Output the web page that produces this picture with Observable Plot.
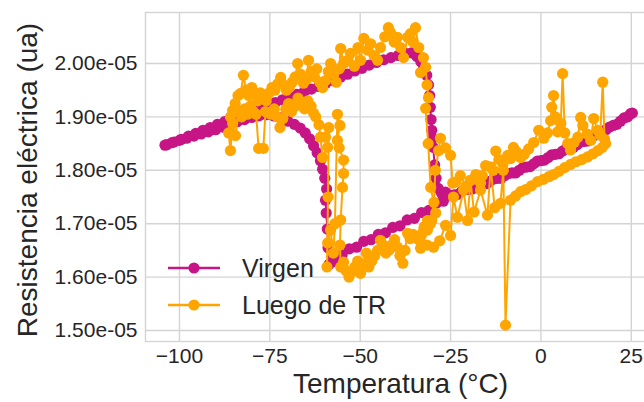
<!DOCTYPE html>
<html><head><meta charset="utf-8">
<script src="https://cdn.jsdelivr.net/npm/d3@7"></script>
<script src="https://cdn.jsdelivr.net/npm/@observablehq/plot@0.6"></script>
<style>
html,body{margin:0;padding:0;background:#fff;overflow:hidden;}
#wrap{position:relative;width:644px;height:402px;overflow:hidden;font-family:"Liberation Sans",Arial,sans-serif;}
#wrap svg{max-width:none !important;}
#legend{position:absolute;left:0;top:0;pointer-events:none;}
</style></head><body>
<div id="wrap"><svg id="legend" width="644" height="402"></svg></div>
<script>
// ---- data (temperature in °C, resistance in units of 1e-5) ----
const seriesNames = ["Virgen", "Luego de TR"];
const seriesColors = ["#c71585", "#ffa500"];
const xTicks = [-100, -75, -50, -25, 0, 25];
const yTicksE5 = [1.5, 1.6, 1.7, 1.8, 1.9, 2.0];

const virgenT = [
 24.8,23,21,19,17,15,13,11,9,7,5,3,1,-1,-3,-5,-7,-9,-11,-13,-15,-17,-19,-21,-23,-25,-27,-29,-31,-33,-35,-37,-39,-41,-43,-45,-47,-49,-51,-53,-55,-56.5,-57.8,-58.6,
 -58.9,-59.1,-59.4,-59.6,-59.3,-59.8,-60.4,-61,-61.9,-62.9,-64,-65.2,-66.6,-68.2,-70,-72,-74,-76,
 -78,-80,-82,-84,-86,-88,-90,-92,-94,-96,-98,-100,-102,-104,
 -103.5,-101.5,-99.5,-97.5,-95.5,-93.5,-91.5,-89.5,-87.5,-85.5,-83.5,-81.5,-79.5,-77.5,-75.5,-73.5,-71.5,-69.5,-67.5,-65.5,-63.5,-61.5,-59.5,-57.5,-55.5,-53.5,-51.5,-49.5,-47.5,-45.5,-43.5,-41.5,-39.5,-37.5,-35.8,-34.3,-33.2,-32.4,-31.6,-31.1,-30.8,-30.6,-30.4,-30.2,-30,-29.8,-29.4,-29,-28.4,-27.5,-26.4,
 -24,-22,-20,-18,-16,-14,-12,-10,-8,-6,-4,-2,0,2,4,6,8,10,12,14,16,18,20,22,24,25.3
];
const virgenR = [
 1.906,1.898,1.886,1.881,1.870,1.866,1.855,1.853,1.843,1.841,1.831,1.829,1.819,1.817,1.807,1.805,1.795,1.794,1.785,1.784,1.775,1.774,1.765,1.764,1.755,1.753,1.742,1.738,1.725,1.721,1.710,1.707,1.696,1.693,1.683,1.680,1.670,1.667,1.656,1.653,1.642,1.637,1.628,1.624,
 1.655,1.690,1.720,1.744,1.765,1.785,1.802,1.818,1.833,1.846,1.859,1.870,1.879,1.886,1.892,1.898,1.902,1.904,
 1.902,1.899,1.895,1.891,1.886,1.881,1.876,1.872,1.868,1.864,1.860,1.856,1.852,1.847,
 1.848,1.853,1.858,1.864,1.869,1.875,1.880,1.886,1.891,1.896,1.901,1.906,1.911,1.917,1.922,1.927,1.932,1.937,1.942,1.947,1.952,1.957,1.963,1.968,1.974,1.980,1.986,1.991,1.997,2.002,2.007,2.011,2.015,2.019,2.020,2.013,2.003,1.992,1.978,1.960,1.940,1.918,1.895,1.875,1.860,1.843,1.810,1.785,1.766,1.757,1.759,
 1.754,1.760,1.764,1.770,1.774,1.780,1.785,1.790,1.795,1.800,1.806,1.812,1.818,1.824,1.830,1.836,1.842,1.848,1.854,1.861,1.868,1.876,1.884,1.892,1.900,1.907
];

const luegoT = [
 17.6,17.1,16.4,15.7,14.6,13.8,12.8,11.6,11,10.2,9.2,8.2,7.4,6.6,6,5.5,4.6,4,3.5,3,2.7,1.8,0.8,-0.6,-2,-3.4,-4.6,-5.6,-6.8,-7.6,-8.4,-9.2,-10.5,-11.6,-12.5,-13.2,-13.9,-15.3,-16.2,-16.7,-18,-19.5,-20.8,-22.3,-23.6,-24.4,-25,-26.4,-27.8,-28.3,-29.2,-29.6,
 -30.6,-31.4,-32.2,-33,-33.8,-34.6,-35.4,-36.2,-36.9,-37.6,-38.2,-39,-39.7,-40.5,-41.3,-42.1,-42.9,-43.7,-44.4,-45.2,-46,-46.8,-47.6,-48.3,-49.1,-49.9,-50.7,-51.5,-52.3,-53.1,-53.9,-54.6,-55.4,-55.6,-55.4,-54.9,-54.6,-54.6,-55.8,-56.3,-55.6,-56.3,-57,-57.4,-58.2,-59,-59.2,-58.9,-58.7,
 -59.6,-59,-60.4,-61,-61.4,-62.3,-62.9,-63.6,-64.5,-65.4,-66.3,-67.2,-68.1,-69,-69.8,-70.6,-71.4,-72.2,-73,-73.8,-74.6,-75.4,-76.2,-76.8,-78.1,-78.8,-79.6,-80.4,-81.2,-82,-82.8,-83.6,-84.5,-85.3,-85.9,-86.4,-85.9,-85.3,
 -84.6,-83.8,-83.1,-82.3,-81.6,-80.8,-80,-79.2,-78.4,-77.6,-76.8,-76,-75.2,-74.4,-73.6,-72.8,-72,-71.2,-70.4,-69.6,-68.8,-68,-67.3,-66.5,-65.7,-64.9,-64.3,-63.5,-62.7,-62,-61.2,-60.4,-59.6,-58.8,-58.2,-57.4,-56.6,-55.8,-55.4,-54.6,-53.8,-52.7,-51.6,-50.6,-49.9,-49,-48,-47.1,-46.2,-45.2,-44.4,-43.2,-42.2,-41.6,-40.6,-39.7,-38.8,-38,-36.9,-36.1,-35.4,-34.7,-33.8,-32.5,-33.3,-31.9,-31.5,-31.1,-31.9,-31.2,-30.5,
 -29.1,-30.2,-31.4,-32.4,-33.3,-33.3,-31.5,-29.7,-28,-26.4,-25,-24.2,-23.1,-21.4,-20.3,-19.5,-18.5,-16.7,-14.8,-13.9,-12.8,-11.2,-10.4,-9.8,-8.4,
 -7,-5.6,-4.2,-2.6,-0.9,0.7,2.2,3.5,5,6.6,8.2,9.7,11.3,12.9,14.4,15.8,17,17.9
];
const luegoR = [
 1.858,1.965,1.866,1.875,1.897,1.856,1.868,1.884,1.899,1.862,1.852,1.838,1.850,1.870,1.981,1.888,1.872,1.900,1.940,1.918,1.893,1.870,1.860,1.875,1.852,1.840,1.830,1.824,1.835,1.843,1.822,1.828,1.812,1.820,1.836,1.800,1.806,1.809,1.790,1.776,1.792,1.781,1.770,1.790,1.778,1.776,1.828,1.842,1.860,1.837,1.800,1.740,
 1.700,1.688,1.695,1.680,1.670,1.675,1.680,1.672,1.682,1.650,1.626,1.640,1.656,1.670,1.660,1.650,1.645,1.660,1.669,1.650,1.640,1.630,1.619,1.645,1.625,1.607,1.630,1.619,1.610,1.600,1.612,1.628,1.619,1.660,1.707,1.768,1.794,1.819,1.842,1.856,1.884,1.905,1.700,1.645,1.688,1.664,1.619,1.750,1.880,
 1.862,1.843,1.824,1.862,1.885,1.900,1.907,1.920,1.930,1.915,1.925,1.935,1.920,1.910,1.925,1.915,1.897,1.880,1.900,1.915,1.905,1.907,1.910,1.841,1.841,1.905,1.910,1.920,1.905,1.915,1.900,1.910,1.865,1.888,1.837,1.870,1.900,1.912,
 1.925,1.940,1.944,1.978,1.950,1.940,1.955,1.945,1.930,1.945,1.940,1.930,1.945,1.955,1.950,1.962,1.974,1.960,1.950,1.955,1.965,1.975,2.000,1.980,1.963,1.970,2.006,1.985,1.975,1.990,1.965,1.955,1.968,1.985,2.000,1.980,1.965,1.990,2.028,2.000,2.005,2.019,1.995,2.030,2.006,2.047,2.025,2.037,2.015,2.006,2.030,2.050,2.067,2.058,2.040,2.049,2.030,2.011,2.049,2.056,2.040,2.067,2.030,2.011,1.983,1.993,1.960,1.936,1.916,1.850,1.768,
 1.720,1.706,1.706,1.690,1.675,1.654,1.660,1.656,1.668,1.697,1.678,1.750,1.712,1.763,1.706,1.781,1.722,1.763,1.716,1.806,1.730,1.738,1.800,1.510,1.744,
 1.752,1.760,1.764,1.771,1.779,1.783,1.788,1.792,1.798,1.805,1.811,1.816,1.820,1.825,1.831,1.837,1.843,1.850
];

// ---- build tables ----
const virgen = virgenT.map((t, i) => ({t, r: virgenR[i] * 1e-5}));
const luego = luegoT.map((t, i) => ({t, r: luegoR[i] * 1e-5}));
const yTicks = yTicksE5.map(v => v * 1e-5);
const fmtE = d => { const [m, e] = d.toExponential(2).split("e"); const s = e[0] === "-" ? "-" : "+"; const n = e.replace(/^[+-]/, ""); return m + "e" + s + n.padStart(2, "0"); };

const grid = "#d4d4d4";
const ink = "#262626";
const chart = Plot.plot({
  width: 656, height: 402,
  marginLeft: 145, marginTop: 12, marginRight: 1, marginBottom: 61,
  style: {fontFamily: "'Liberation Sans', Arial, sans-serif", color: ink, background: "#fff", maxWidth: "none"},
  x: {domain: [-109.4, 31.7]},
  y: {domain: [1.4794e-5, 2.0955e-5]},
  marks: [
    Plot.gridX(xTicks, {stroke: grid, strokeOpacity: 1, strokeWidth: 1.4}),
    Plot.gridY(yTicks, {stroke: grid, strokeOpacity: 1, strokeWidth: 1.4}),
    Plot.frame({stroke: grid, strokeWidth: 1.4}),
    Plot.axisX(xTicks, {tickSize: 0, tickPadding: 7, fontSize: 21, label: null}),
    Plot.axisY(yTicks, {tickSize: 0, tickPadding: 8, fontSize: 21, label: null, tickFormat: fmtE}),
    Plot.text(["Temperatura (°C)"], {frameAnchor: "bottom", dy: 43, fontSize: 28, fill: ink, lineAnchor: "middle", textAnchor: "middle", text: d => d}),
    Plot.text(["Resistencia eléctrica (ua)"], {frameAnchor: "left", dx: -117, dy: 3, rotate: -90, fontSize: 28, fill: ink, lineAnchor: "middle", textAnchor: "middle", text: d => d}),
    Plot.line(virgen, {x: "t", y: "r", stroke: seriesColors[0], strokeWidth: 2}),
    Plot.dot(virgen, {x: "t", y: "r", r: 5.6, fill: seriesColors[0]}),
    Plot.line(luego, {x: "t", y: "r", stroke: seriesColors[1], strokeWidth: 2}),
    Plot.dot(luego, {x: "t", y: "r", r: 5.6, fill: seriesColors[1]})
  ]
});
const wrap = document.getElementById("wrap");
wrap.insertBefore(chart, wrap.firstChild);

// legend (inside plot, lower left)
const lg = d3.select("#legend");
const rows = [268, 305];
seriesNames.forEach((name, i) => {
  const y = rows[i];
  lg.append("line").attr("x1", 168).attr("x2", 220).attr("y1", y).attr("y2", y)
    .attr("stroke", seriesColors[i]).attr("stroke-width", 2.5);
  lg.append("circle").attr("cx", 194).attr("cy", y).attr("r", 5.6).attr("fill", seriesColors[i]);
  lg.append("text").attr("x", 242).attr("y", y + 9).attr("font-size", 25)
    .attr("font-family", "'Liberation Sans', Arial, sans-serif").attr("fill", ink).text(name);
});
</script>
</body></html>
